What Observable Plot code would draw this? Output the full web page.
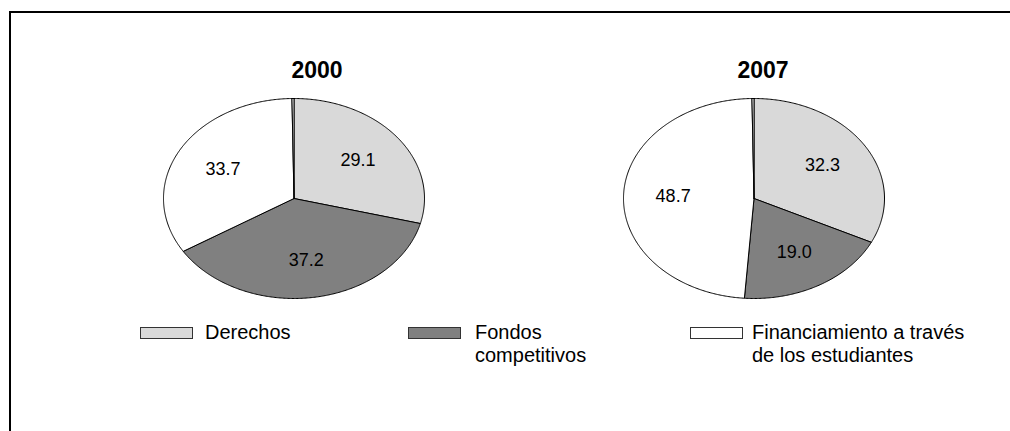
<!DOCTYPE html>
<html><head><meta charset="utf-8">
<script src="https://cdn.jsdelivr.net/npm/d3@7"></script>
<script src="https://cdn.jsdelivr.net/npm/@observablehq/plot@0.6"></script>
<style>
body{margin:0;background:#fff;font-family:"Liberation Sans",Arial,Helvetica,sans-serif;color:#000;}
#page{position:relative;width:1010px;height:431px;overflow:hidden;background:#fff;}
#frame{position:absolute;left:9px;top:11px;width:1200px;height:600px;border-left:2px solid #000;border-top:2px solid #000;}
.title{position:absolute;font-weight:bold;font-size:23px;transform:translateX(-50%);line-height:1;}
.pie{position:absolute;}
.sw{position:absolute;width:53px;height:12px;border:1px solid #333;box-sizing:border-box;}
.lt{position:absolute;font-size:20px;line-height:23px;}
</style></head>
<body>
<div id="page">
  <div id="frame"></div>
</div>
<script>
const years = ["2000", "2007"];
const categories = ["Derechos", "Fondos competitivos", "Financiamiento a través de los estudiantes", "Otros"];
const legendLines = [["Derechos"], ["Fondos", "competitivos"], ["Financiamiento a través", "de los estudiantes"]];
const values2000 = [29.1, 37.2, 33.7, 0.25];
const values2007 = [32.3, 19.0, 48.7, 0.25];
const labelled = [true, true, true, false];
const fills = ["#d9d9d9", "#808080", "#ffffff", "#ffffff"];

const page = document.getElementById("page");

function slices(values) {
  const total = d3.sum(values);
  const pts = [];
  const labels = [];
  let cum = 0;
  values.forEach((v, i) => {
    const a0 = cum / total * 2 * Math.PI;
    const a1 = (cum + v) / total * 2 * Math.PI;
    const n = Math.max(2, Math.ceil((a1 - a0) / 0.01));
    pts.push({cat: categories[i], x: 0, y: 0});
    for (let k = 0; k <= n; k++) {
      const a = a0 + (a1 - a0) * k / n;
      pts.push({cat: categories[i], x: Math.sin(a), y: Math.cos(a)});
    }
    pts.push({cat: categories[i], x: 0, y: 0});
    if (labelled[i]) {
      const am = (a0 + a1) / 2;
      labels.push({x: 0.62 * Math.sin(am), y: 0.62 * Math.cos(am), text: v.toFixed(1)});
    }
    cum += v;
  });
  return {pts, labels};
}

function pie(values) {
  const {pts, labels} = slices(values);
  return Plot.plot({
    width: 265, height: 204,
    margin: 2,
    x: {domain: [-1, 1], axis: null},
    y: {domain: [-1, 1], axis: null},
    color: {domain: categories, range: fills},
    style: {background: "transparent", overflow: "visible"},
    marks: [
      Plot.line(pts, {x: "x", y: "y", z: "cat", fill: "cat", stroke: "#000", strokeWidth: 1, strokeLinejoin: "miter", curve: "linear"}),
      Plot.text(labels, {x: "x", y: "y", text: "text", fontSize: 18, fill: "#000", fontFamily: "Liberation Sans, Arial, sans-serif"})
    ]
  });
}

const centers = [293.5, 753.5];
const titleX = [317, 763];
[values2000, values2007].forEach((vals, i) => {
  const t = document.createElement("div");
  t.className = "title";
  t.textContent = years[i];
  t.style.left = titleX[i] + "px";
  t.style.top = "59px";
  page.appendChild(t);
  const wrap = document.createElement("div");
  wrap.className = "pie";
  wrap.style.left = (centers[i] - 132.5) + "px";
  wrap.style.top = "96px";
  wrap.appendChild(pie(vals));
  page.appendChild(wrap);
});

const swX = [140, 408, 690];
const txX = [205, 475, 752];
legendLines.forEach((lines, i) => {
  const s = document.createElement("div");
  s.className = "sw";
  s.style.left = swX[i] + "px";
  s.style.top = "327px";
  s.style.background = fills[i];
  page.appendChild(s);
  const t = document.createElement("div");
  t.className = "lt";
  t.style.left = txX[i] + "px";
  t.style.top = "321px";
  t.innerHTML = lines.join("<br>");
  page.appendChild(t);
});
</script>
</body></html>
